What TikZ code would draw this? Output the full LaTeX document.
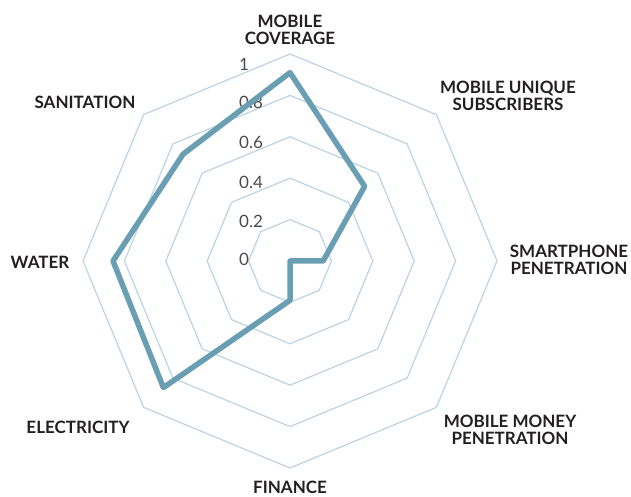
\documentclass[tikz,border=0pt]{standalone}
\usepackage{fontspec}
\setmainfont{Lato}
\usetikzlibrary{calc}
\definecolor{gridc}{HTML}{BCD2E5}
\definecolor{datac}{HTML}{6A9FB3}
\definecolor{labc}{HTML}{231F20}
\definecolor{tickc}{HTML}{4A4A4A}
\tikzset{
  ring/.style={draw=gridc, line width=1.2pt},
  series/.style={draw=datac, line width=5.5pt, line join=round, line cap=round},
  catlabel/.style={text=labc, font=\fontsize{17}{17}\selectfont\bfseries, align=center, inner sep=0pt},
  ticklabel/.style={text=tickc, font=\fontsize{17}{17}\selectfont, inner sep=0pt, anchor=west, text height=12pt, text depth=0pt}
}
\begin{document}
\begin{tikzpicture}[x=1pt,y=1pt]
\useasboundingbox (0,0) rectangle (631,497);
\coordinate (c) at (290,236);
% rings
\foreach \k in {1,...,5}{
  \pgfmathsetmacro{\r}{207*\k/5}
  \draw[ring] ($(c)+(90:\r pt)$) -- ($(c)+(45:\r pt)$) -- ($(c)+(0:\r pt)$) -- ($(c)+(-45:\r pt)$)
    -- ($(c)+(-90:\r pt)$) -- ($(c)+(-135:\r pt)$) -- ($(c)+(180:\r pt)$) -- ($(c)+(135:\r pt)$) -- cycle;
}
% tick labels
\node[ticklabel] (t0) at (239,237) {0};
\node[ticklabel] (t2) at (239,275) {0.2};
\node[ticklabel] (t4) at (239,314) {0.4};
\node[ticklabel] (t6) at (239,354) {0.6};
\node[ticklabel] (t8) at (239,394) {0.8};
\node[ticklabel] (t10) at (239,432) {1};
% data
\coordinate (d1) at ($(c)+(90:0.91*207pt)$);
\coordinate (d2) at ($(c)+(45:0.51*207pt)$);
\coordinate (d3) at ($(c)+(0:0.16*207pt)$);
\coordinate (d4) at (c);
\coordinate (d5) at ($(c)+(-90:0.19*207pt)$);
\coordinate (d6) at ($(c)+(-135:0.865*207pt)$);
\coordinate (d7) at ($(c)+(180:0.855*207pt)$);
\coordinate (d8) at ($(c)+(135:0.73*207pt)$);
\draw[series] (d1) -- (d2) -- (d3) -- (d4) -- (d5) -- (d6) -- (d7) -- (d8) -- cycle;
% category labels
\node[catlabel] (cov) at (290,467) {MOBILE\\COVERAGE};
\node[catlabel] (uniq) at (508,401) {MOBILE UNIQUE\\SUBSCRIBERS};
\node[catlabel] (smart) at (569,237) {SMARTPHONE\\PENETRATION};
\node[catlabel] (money) at (510,67) {MOBILE MONEY\\PENETRATION};
\node[catlabel] (fin) at (290,9.5) {FINANCE};
\node[catlabel] (elec) at (78,70) {ELECTRICITY};
\node[catlabel] (water) at (40,235) {WATER};
\node[catlabel] (sanit) at (85,395) {SANITATION};
\end{tikzpicture}
\end{document}
